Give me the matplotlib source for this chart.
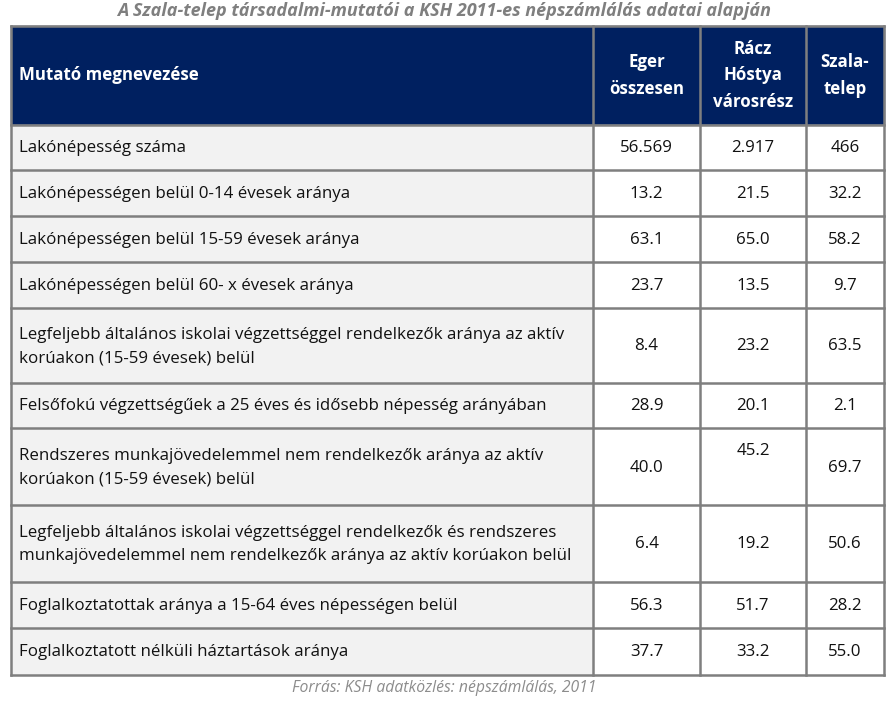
import matplotlib
matplotlib.use("Agg")
import matplotlib.pyplot as plt
from matplotlib import font_manager as fm

names = {f.name for f in fm.fontManager.ttflist}
FONT = 'Liberation Sans Narrow' if 'Liberation Sans Narrow' in names else 'Open Sans'

title = "A Szala-telep társadalmi-mutatói a KSH 2011-es népszámlálás adatai alapján"
source = "Forrás: KSH adatközlés: népszámlálás, 2011"
header = ["Mutató megnevezése", "Eger\nösszesen", "Rácz\nHóstya\nvárosrész", "Szala-\ntelep"]
indicators = [
    "Lakónépesség száma",
    "Lakónépességen belül 0-14 évesek aránya",
    "Lakónépességen belül 15-59 évesek aránya",
    "Lakónépességen belül 60- x évesek aránya",
    "Legfeljebb általános iskolai végzettséggel rendelkezők aránya az aktív\nkorúakon (15-59 évesek) belül",
    "Felsőfokú végzettségűek a 25 éves és idősebb népesség arányában",
    "Rendszeres munkajövedelemmel nem rendelkezők aránya az aktív\nkorúakon (15-59 évesek) belül",
    "Legfeljebb általános iskolai végzettséggel rendelkezők és rendszeres\nmunkajövedelemmel nem rendelkezők aránya az aktív korúakon belül",
    "Foglalkoztatottak aránya a 15-64 éves népességen belül",
    "Foglalkoztatott nélküli háztartások aránya",
]
eger = [56569, 13.2, 63.1, 23.7, 8.4, 28.9, 40.0, 6.4, 56.3, 37.7]
racz = [2917, 21.5, 65.0, 13.5, 23.2, 20.1, 45.2, 19.2, 51.7, 33.2]
szala = [466, 32.2, 58.2, 9.7, 63.5, 2.1, 69.7, 50.6, 28.2, 55.0]

def fmt(v, i):
    if i == 0:
        return f"{int(v):,}".replace(",", ".")
    return f"{v:.1f}"

W, H = 889, 705
fig = plt.figure(figsize=(W/100, H/100), dpi=100)
ax = fig.add_axes([0, 0, 1, 1])
ax.set_xlim(0, W)
ax.set_ylim(H, 0)
ax.axis('off')

cols = [11, 593, 700, 806, 884]
rows = [26, 125, 170, 216, 262, 308, 383, 428, 505, 582, 628, 675]
navy = '#002060'
grid = '#7f7f7f'
fs = 12.2

# header
ax.add_patch(plt.Rectangle((cols[0], rows[0]), cols[-1]-cols[0], rows[1]-rows[0], color=navy, zorder=1))
ax.text(19, (rows[0]+rows[1])/2, header[0], color='white', fontweight='bold', fontsize=fs,
        family=FONT, va='center', ha='left', zorder=3)
for j in range(1, 4):
    ax.text((cols[j]+cols[j+1])/2, (rows[0]+rows[1])/2, header[j], color='white', fontweight='bold',
            fontsize=fs, family=FONT, va='center', ha='center', linespacing=1.6, zorder=3)

# body
for i, lab in enumerate(indicators):
    y0, y1 = rows[i+1], rows[i+2]
    ax.add_patch(plt.Rectangle((cols[0], y0), cols[1]-cols[0], y1-y0, color='#f2f2f2', zorder=1))
    ax.add_patch(plt.Rectangle((cols[1], y0), cols[-1]-cols[1], y1-y0, color='white', zorder=1))
    yc = (y0+y1)/2 + 1
    ax.text(19, yc, lab, fontsize=fs, family=FONT, va='center', ha='left', linespacing=1.6,
            color='#111111', zorder=3)
    for j, series in enumerate([eger, racz, szala]):
        yy = yc
        if i == 6 and j == 1:
            yy = y0 + 23
        ax.text((cols[j+1]+cols[j+2])/2, yy, fmt(series[i], i), fontsize=fs, family=FONT,
                va='center', ha='center', color='#111111', zorder=3)

# grid lines
for y in rows[1:]:
    ax.plot([cols[0], cols[-1]], [y, y], color=grid, lw=1.8, zorder=2, solid_capstyle='projecting')
ax.plot([cols[0], cols[-1]], [rows[0], rows[0]], color=grid, lw=1.8, zorder=2)
for x in cols:
    ax.plot([x, x], [rows[0], rows[-1]], color=grid, lw=1.8, zorder=2)

ax.text(W/2, 11, title, fontsize=13, family=FONT, fontstyle='italic', fontweight='bold',
        color='#7f7f7f', ha='center', va='center')
ax.text(W/2, 688, source, fontsize=11.3, family=FONT, fontstyle='italic', color='#8c8c8c',
        ha='center', va='center')

fig.savefig('out.png', dpi=100)
